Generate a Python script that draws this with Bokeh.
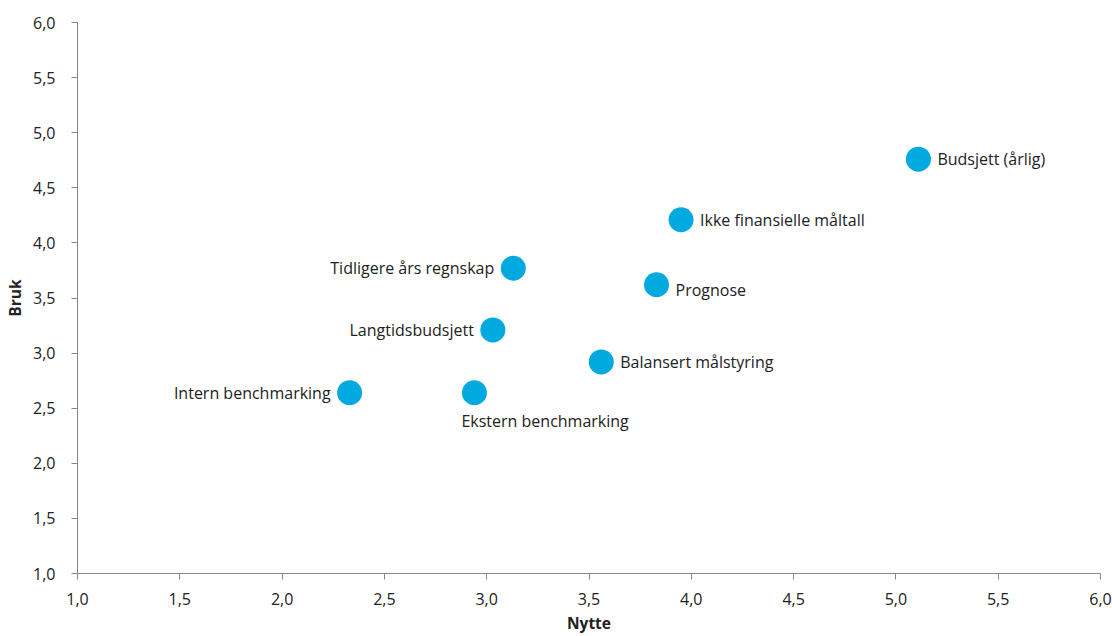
from bokeh.plotting import figure
from bokeh.models import ColumnDataSource, Range1d, FixedTicker, CustomJSTickFormatter, LabelSet
from bokeh.core.properties import value
from bokeh.embed import file_html
from bokeh.resources import INLINE

labels = ["Budsjett (årlig)", "Ikke finansielle måltall", "Tidligere års regnskap", "Prognose",
          "Langtidsbudsjett", "Balansert målstyring", "Intern benchmarking", "Ekstern benchmarking"]
nytte = [5.11, 3.95, 3.13, 3.83, 3.03, 3.56, 2.33, 2.94]
bruk = [4.76, 4.21, 3.77, 3.62, 3.21, 2.92, 2.64, 2.64]
ticks = [1.0, 1.5, 2.0, 2.5, 3.0, 3.5, 4.0, 4.5, 5.0, 5.5, 6.0]
x_title = "Nytte"
y_title = "Bruk"

# label placement (style, not data)
place = {
    "Budsjett (årlig)": ("right", 0),
    "Ikke finansielle måltall": ("right", 0),
    "Tidligere års regnskap": ("left", 0),
    "Prognose": ("right", -5),
    "Langtidsbudsjett": ("left", 0),
    "Balansert målstyring": ("right", 0),
    "Intern benchmarking": ("left", 0),
    "Ekstern benchmarking": ("below", -28),
}
xo, yo, al = [], [], []
for l in labels:
    side, dy = place[l]
    if side == "right":
        xo.append(19); al.append("left")
    elif side == "left":
        xo.append(-19); al.append("right")
    else:
        xo.append(-13); al.append("left")
    yo.append(dy)

src = ColumnDataSource(dict(x=nytte, y=bruk, label=labels, xo=xo, yo=yo, al=al))

FONT = "Open Sans"
p = figure(width=1112, height=636, output_backend="svg", toolbar_location=None,
           x_range=Range1d(1.0, 6.0), y_range=Range1d(1.0, 6.0),
           min_border_left=77, min_border_right=12, min_border_top=22, min_border_bottom=63)
p.outline_line_color = None
p.xgrid.grid_line_color = None
p.ygrid.grid_line_color = None
p.background_fill_color = "white"

p.scatter("x", "y", source=src, size=25, fill_color="#00A9E0", line_color=None)

p.add_layout(LabelSet(x="x", y="y", text="label", source=src, x_offset="xo", y_offset="yo",
                      text_align="al", text_baseline="middle", text_font=value(FONT),
                      text_font_size="16px", text_color="#222222"))

fmt = CustomJSTickFormatter(code="return tick.toFixed(1).replace('.', ',');")
for ax in (p.xaxis[0], p.yaxis[0]):
    ax.ticker = FixedTicker(ticks=ticks)
    ax.formatter = fmt
    ax.minor_tick_line_color = None
    ax.axis_line_color = "#888888"
    ax.major_tick_line_color = "#888888"
    ax.major_tick_out = 6
    ax.major_tick_in = 0
    ax.major_label_text_font = FONT
    ax.major_label_text_font_size = "16px"
    ax.major_label_text_color = "#222222"
    ax.axis_label_text_font = FONT
    ax.axis_label_text_font_size = "15.5px"
    ax.axis_label_text_font_style = "bold"
    ax.axis_label_text_color = "#222222"

p.xaxis.axis_label = x_title
p.yaxis.axis_label = y_title
p.xaxis.major_label_standoff = 13
p.yaxis.major_label_standoff = 16
p.xaxis.axis_label_standoff = 4
p.yaxis.axis_label_standoff = 4

open("out.html", "w").write(file_html(p, INLINE))
